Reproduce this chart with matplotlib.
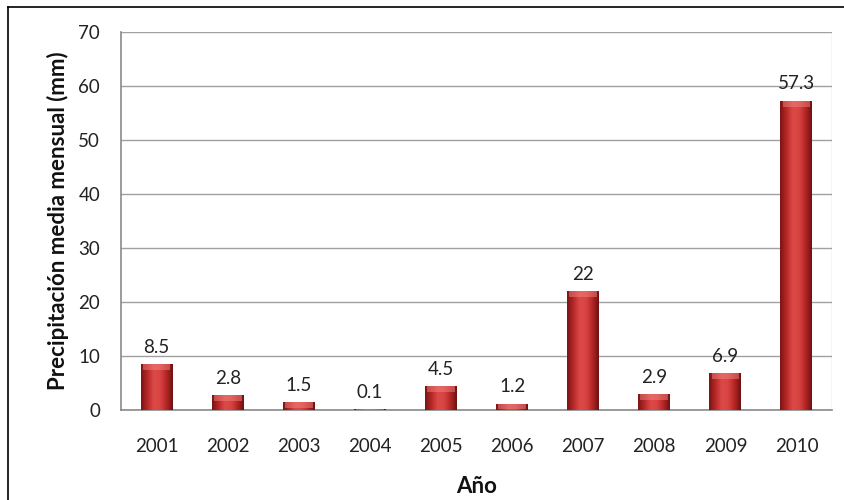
import numpy as np
import matplotlib
matplotlib.use('Agg')
import matplotlib.pyplot as plt
from matplotlib.colors import LinearSegmentedColormap
from matplotlib.lines import Line2D

# ── data ────────────────────────────────────────────────────────────────────
years = ['2001', '2002', '2003', '2004', '2005', '2006', '2007', '2008', '2009', '2010']
precip = [8.5, 2.8, 1.5, 0.1, 4.5, 1.2, 22, 2.9, 6.9, 57.3]
labels = ['8.5', '2.8', '1.5', '0.1', '4.5', '1.2', '22', '2.9', '6.9', '57.3']

plt.rcParams['font.family'] = ['Lato', 'DejaVu Sans']

fig = plt.figure(figsize=(8.44, 5.0), dpi=100)
ax = fig.add_axes([0.1434, 0.18, 0.8424, 0.756])

# frame lines (top + left only, like the cropped original)
fig.add_artist(Line2D([0.0095, 1.0], [0.986, 0.986], color='black', lw=1.2,
                      transform=fig.transFigure))
fig.add_artist(Line2D([0.0095, 0.0095], [0.0, 0.986], color='black', lw=1.2,
                      transform=fig.transFigure))

x = np.arange(len(years))
bars = ax.bar(x, precip, width=0.45, color='#c0302f', zorder=3)

# cylinder-like shading on every bar
shade = LinearSegmentedColormap.from_list(
    'shade', ['#7a1515', '#b82828', '#dc4a48', '#d84442', '#b52626', '#6e1212'])
grad = np.linspace(0, 1, 64).reshape(1, -1)
for b in bars:
    x0, y0 = b.get_x(), b.get_y()
    w, h = b.get_width(), b.get_height()
    im = ax.imshow(grad, cmap=shade, aspect='auto', zorder=4,
                   extent=[x0, x0 + w, y0, y0 + h], interpolation='bicubic')
    im.set_clip_path(b)
    b.set_facecolor('none')
    # light bevel at the top
    cap = min(h, 1.1)
    ax.fill_between([x0 + 0.03, x0 + w - 0.03], y0 + h - cap, y0 + h,
                    color='#f08480', alpha=0.5, lw=0, zorder=5)

for xi, v, lab in zip(x, precip, labels):
    ax.text(xi, v + 1.5, lab, ha='center', va='bottom', fontsize=13.5,
            color='#222222', zorder=6)

ax.set_xlim(-0.5, len(years) - 0.5)
ax.set_ylim(0, 70)
ax.set_yticks(np.arange(0, 71, 10))
ax.set_xticks(x)
ax.set_xticklabels(years)
ax.tick_params(axis='both', length=0, labelsize=13.5, colors='#222222')
ax.tick_params(axis='y', pad=15)
ax.tick_params(axis='x', pad=20)

ax.grid(axis='y', color='#a0a0a0', lw=1.0, zorder=0)
for s in ['top', 'right']:
    ax.spines[s].set_visible(False)
ax.spines['left'].set_color('#8a8a8a')
ax.spines['bottom'].set_color('#8a8a8a')
ax.spines['left'].set_linewidth(1.2)
ax.spines['bottom'].set_linewidth(1.2)
# faint right border
ax.axvline(len(years) - 0.5, color='#d0d0d0', lw=1.0, zorder=1)

ax.set_ylabel('Precipitación media mensual (mm)', fontsize=16,
              fontweight='bold', color='#111111', labelpad=7)
ax.set_xlabel('Año', fontsize=16, fontweight='bold', color='#111111',
              labelpad=15)

fig.savefig('out.png', dpi=100)
